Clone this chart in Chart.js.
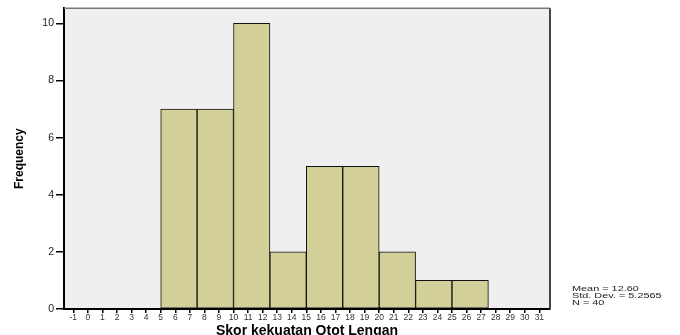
<!DOCTYPE html>
<html>
<head>
<meta charset="utf-8">
<script src="https://cdn.jsdelivr.net/npm/chart.js@4.4.1/dist/chart.umd.min.js"></script>
<style>
  html, body { margin: 0; padding: 0; background: #fff; }
  #wrap { width: 680px; height: 335px; }
</style>
</head>
<body>
<div id="wrap"><canvas id="hist" width="680" height="335"></canvas></div>
<script>
// histogram data (read from the SPSS output)
const binStarts = [5, 7.5, 10, 12.5, 15, 17.5, 20, 22.5, 25];
const binWidth = 2.5;
const frequency = [7, 7, 10, 2, 5, 5, 2, 1, 1];

const xTicks = [-1, 0, 1, 2, 3, 4, 5, 6, 7, 8, 9, 10, 11, 12, 13, 14, 15,
                16, 17, 18, 19, 20, 21, 22, 23, 24, 25, 26, 27, 28, 29, 30, 31];
const yTicks = [0, 2, 4, 6, 8, 10];

const xTitle = 'Skor kekuatan Otot Lengan';
const yTitle = 'Frequency';
const statLines = ['Mean = 12.60', 'Std. Dev. = 5.2565', 'N = 40'];

const xMin = -1.64, xMax = 31.73;
const yMax = 10.53;
const sans = "'Liberation Sans', Arial, sans-serif";

const binEdges = binStarts.concat([binStarts[binStarts.length - 1] + binWidth]);
const points = binStarts.map((s, i) => ({ x: s + binWidth / 2, y: frequency[i] }));

// grey plot background, top/right frame, x title (sits half off the bottom edge) and stats
const frame = {
    id: 'frame',
    beforeDraw(chart) {
        const a = chart.chartArea;
        const ctx = chart.ctx;
        ctx.save();
        ctx.fillStyle = '#efefef';
        ctx.fillRect(a.left, a.top, a.right - a.left, a.bottom - a.top);
        ctx.restore();
    },
    afterDraw(chart) {
        const a = chart.chartArea;
        const ctx = chart.ctx;
        ctx.save();
        ctx.strokeStyle = '#7a7a7a';
        ctx.lineWidth = 1.5;
        ctx.beginPath();
        ctx.moveTo(a.left, a.top);
        ctx.lineTo(a.right, a.top);
        ctx.stroke();
        ctx.strokeStyle = '#444';
        ctx.lineWidth = 2;
        ctx.beginPath();
        ctx.moveTo(a.right, a.top);
        ctx.lineTo(a.right, a.bottom);
        ctx.stroke();

        ctx.fillStyle = '#000';
        ctx.font = 'bold 14px ' + sans;
        ctx.textAlign = 'center';
        ctx.textBaseline = 'alphabetic';
        ctx.fillText(xTitle, (a.left + a.right) / 2, 335);

        ctx.fillStyle = '#222';
        ctx.font = '7.5px ' + sans;
        ctx.textAlign = 'left';
        ctx.textBaseline = 'middle';
        statLines.forEach((t, i) => {
            ctx.save();
            ctx.translate(572, 289 + i * 7);
            ctx.scale(1.45, 1);
            ctx.fillText(t, 0, 0);
            ctx.restore();
        });
        ctx.restore();
    }
};

new Chart(document.getElementById('hist'), {
    type: 'bar',
    data: {
        datasets: [{
            data: points,
            xAxisID: 'xb',
            backgroundColor: '#d3cf99',
            borderColor: '#111',
            borderWidth: 1,
            borderSkipped: false,
            barPercentage: 1,
            categoryPercentage: 1
        }]
    },
    options: {
        responsive: false,
        animation: false,
        layout: { padding: { top: 8, right: 130, bottom: 0, left: 0 } },
        plugins: { legend: { display: false }, tooltip: { enabled: false } },
        scales: {
            x: {
                type: 'linear',
                position: 'bottom',
                offset: false,
                min: xMin,
                max: xMax,
                afterBuildTicks: s => { s.ticks = xTicks.map(v => ({ value: v })); },
                afterFit: s => { s.height = 26; },
                grid: { offset: false, drawOnChartArea: false, drawTicks: true, tickLength: 4, color: '#000', lineWidth: 1.5 },
                border: { display: true, color: '#000', width: 2 },
                ticks: { font: { size: 8.5, family: sans }, color: '#333', padding: 0, maxRotation: 0, autoSkip: false }
            },
            xb: {
                type: 'linear',
                display: false,
                offset: false,
                grid: { offset: false },
                min: xMin,
                max: xMax,
                afterBuildTicks: s => { s.ticks = binEdges.map(v => ({ value: v })); }
            },
            y: {
                min: 0,
                max: yMax,
                afterBuildTicks: s => { s.ticks = yTicks.map(v => ({ value: v })); },
                afterFit: s => { s.width = 64; },
                grid: { drawOnChartArea: false, drawTicks: true, tickLength: 8, color: '#000', lineWidth: 1.5 },
                border: { display: true, color: '#000', width: 2 },
                ticks: { font: { size: 10.5, family: sans }, color: '#222', padding: 2 },
                title: { display: true, text: yTitle, color: '#000', font: { size: 12, weight: 'bold', family: "'Liberation Sans Narrow', " + sans }, padding: { top: 12, bottom: 0 } }
            }
        }
    },
    plugins: [frame]
});
</script>
</body>
</html>
